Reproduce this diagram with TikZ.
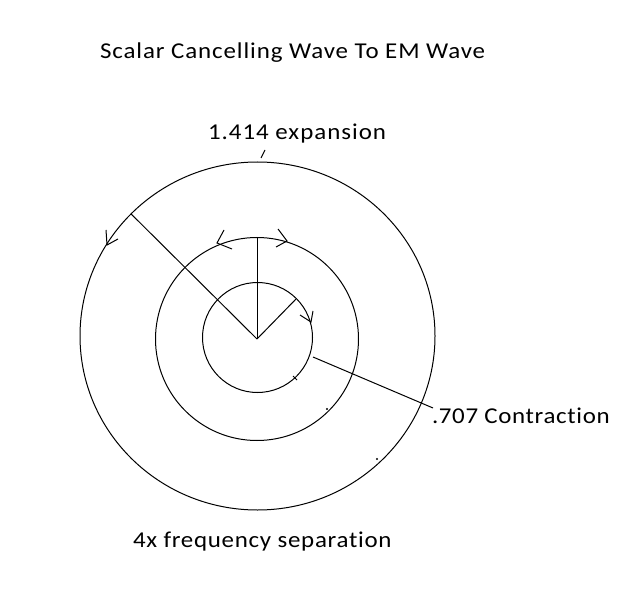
\documentclass[tikz,border=0pt]{standalone}
\usepackage{fontspec}
\setmainfont{Carlito}
\newfontfamily\ftitle{Carlito}[FakeStretch=1.1,LetterSpace=4,Ligatures=NoCommon]
\newfontfamily\fexpn{Carlito}[FakeStretch=1.1,LetterSpace=4.4,Ligatures=NoCommon]
\newfontfamily\fcontr{Carlito}[FakeStretch=1.1,LetterSpace=2.9,Ligatures=NoCommon]
\newfontfamily\ffreq{Carlito}[FakeStretch=1.1,LetterSpace=3.2,Ligatures=NoCommon]
\usetikzlibrary{shapes.geometric}
\begin{document}
\begin{tikzpicture}[x=0.75pt,y=-0.75pt,
  ln/.style={line width=0.75pt,black},
  ring/.style={circle,draw,line width=0.75pt,inner sep=0pt,outer sep=0pt},
  lbl/.style={inner sep=0pt,outer sep=0pt,anchor=base west,font=\fontsize{17}{20}\selectfont}]
\useasboundingbox[fill=white] (0,0) rectangle (617,602);
% texts
\node[lbl] (title) at (100,59) {\ftitle Scalar Cancelling Wave To EM Wave};
\node[lbl] (expn) at (208,140) {\fexpn 1.414 expansion};
\node[lbl] (contr) at (432,423) {\fcontr .707 Contraction};
\node[lbl] (freq) at (133,547) {\ffreq 4x frequency separation};
% rings
\coordinate (c) at (257,339);
\node[ring,minimum size=82.5pt] (inner) at (257.5,337.5) {};
\node[ring,minimum size=152.25pt] (mid) at (257,339) {};
\node[ellipse,draw,line width=0.75pt,inner sep=0pt,outer sep=0pt,minimum width=266.25pt,minimum height=261pt] (outer) at (257.5,336) {};
% radial lines
\draw[ln] (c) -- (outer.136);
\draw[ln] (c) -- (mid.90);
\draw[ln] (c) -- (inner.45);
% leader to contraction label
\coordinate (ls) at (313,357);
\coordinate (le) at (433,408);
\draw[ln] (ls) -- (le);
% tick above outer ring
\coordinate (t1) at (261,158);
\coordinate (t2) at (265,150);
\draw[ln] (t1) -- (t2);
% arrowheads (open barbs)
\coordinate (a1) at (107,245);
\draw[ln] (106,230) -- (a1) -- (118,239);
\coordinate (a2) at (217,243);
\draw[ln] (224,230) -- (a2) -- (232,249);
\coordinate (a3) at (287,241);
\draw[ln] (278,229) -- (a3) -- (276,247);
\coordinate (a4) at (311,322);
\draw[ln] (313,311) -- (a4) -- (300,315);
% small marks on rings
\coordinate (m1) at (295,378);
\draw[ln] (293,376) -- (297,380);
\coordinate (m2) at (327,409);
\fill (m2) circle (1.2);
\coordinate (m3) at (377,459);
\fill (m3) circle (1.2);
\end{tikzpicture}
\end{document}
